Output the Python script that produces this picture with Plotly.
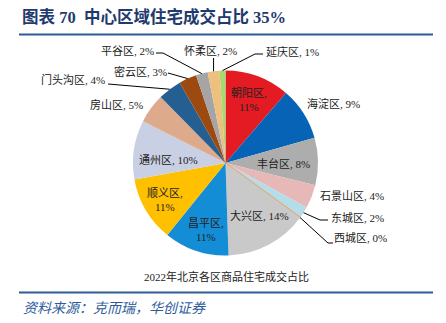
import math
import plotly.graph_objects as go

# 2022 Beijing new-home transaction share by district (%)
districts = ["朝阳区", "海淀区", "丰台区", "石景山区", "东城区", "西城区", "大兴区", "昌平区",
             "顺义区", "通州区", "房山区", "门头沟区", "密云区", "平谷区", "怀柔区", "延庆区"]
shares = [11, 9, 8, 4, 2, 0, 14, 11, 11, 10, 5, 4, 3, 2, 2, 1]
colors = ["#E41B22", "#0663B6", "#ADADAD", "#E6B9B8", "#B4DDE8", "#F79646", "#C9C9C9", "#138ED6",
          "#FFC000", "#CAD0E4", "#DDAA8C", "#255E91", "#9C4A10", "#A5A5A5", "#EEC07E", "#A8D870"]

W, H = 446, 323
CX, CY, R = 225.5, 163.0, 92.5   # pie centre / radius in pixels

def px(x):
    return x / W

def py(y):
    return 1 - y / H

fig = go.Figure()

fig.add_trace(go.Pie(
    labels=districts,
    values=shares,
    sort=False,
    direction="clockwise",
    rotation=0,
    textinfo="none",
    hoverinfo="label+value",
    marker=dict(colors=colors,
                line=dict(color=["#F79646" if v == 0 else "rgba(0,0,0,0)" for v in shares],
                          width=[1.5 if v == 0 else 0 for v in shares])),
    domain=dict(x=[px(CX - R), px(CX + R)], y=[py(CY + R), py(CY - R)]),
    showlegend=False,
))

# slice mid-angles (clockwise from 12 o'clock) derived from the data
total = sum(shares)
mid_angle = {}
acc = 0.0
for name, v in zip(districts, shares):
    mid_angle[name] = (acc + v / 2) / total * 2 * math.pi
    acc += v

def edge_point(name):
    a = mid_angle[name]
    return CX + R * math.sin(a), CY - R * math.cos(a)

# label placement (pixel centres)
label_pos = {
    "朝阳区": (249, 100), "海淀区": (333, 103), "丰台区": (283, 163), "石景山区": (352, 196),
    "东城区": (357, 218), "西城区": (360, 238), "大兴区": (259, 216), "昌平区": (206, 230),
    "顺义区": (165, 200), "通州区": (168, 160), "房山区": (117, 105), "门头沟区": (73, 80),
    "密云区": (140, 71), "平谷区": (127, 51), "怀柔区": (210, 51), "延庆区": (292, 51),
}
two_line = {"朝阳区", "昌平区", "顺义区"}

label_font = dict(family="Liberation Serif, Noto Sans CJK SC", size=11, color="#222222")
annotations = []
for name, v in zip(districts, shares):
    x, y = label_pos[name]
    sep = ",<br>" if name in two_line else ", "
    annotations.append(dict(x=px(x), y=py(y), xref="paper", yref="paper",
                            text=f"{name}{sep}{v}%", showarrow=False,
                            xanchor="center", yanchor="middle", font=label_font))

# leader lines: slice edge -> elbow -> label
leaders = {
    "东城区": [(320, 220), (328, 220)],
    "西城区": [(328, 243), (333, 243)],
    "门头沟区": [(108, 84)],
    "密云区": [(168, 73)],
    "平谷区": [(163, 53), (156, 53)],
    "延庆区": [(255, 54), (263, 54)],
}
shapes = []
for name, pts in leaders.items():
    sx, sy = edge_point(name)
    path = f"M {px(sx)} {py(sy)} " + " ".join(f"L {px(a)} {py(b)}" for a, b in pts)
    shapes.append(dict(type="path", path=path, xref="paper", yref="paper",
                       line=dict(color="#000000", width=1)))
hx, hy = edge_point("怀柔区")
shapes.append(dict(type="line", xref="paper", yref="paper", x0=px(hx), y0=py(hy),
                   x1=px(hx), y1=py(58), line=dict(color="#000000", width=1)))

# header / footer rules
rule = "#2E5C96"
shapes.append(dict(type="line", xref="paper", yref="paper", x0=px(19), x1=px(433),
                   y0=py(34.5), y1=py(34.5), line=dict(color=rule, width=2.2)))
shapes.append(dict(type="line", xref="paper", yref="paper", x0=px(19), x1=px(433),
                   y0=py(292.5), y1=py(292.5), line=dict(color=rule, width=2.2)))

annotations.append(dict(x=px(20), y=py(17), xref="paper", yref="paper",
                        text="<b>图表 70  中心区域住宅成交占比 35%</b>", showarrow=False,
                        xanchor="left", yanchor="middle",
                        font=dict(family="Liberation Serif, Noto Sans CJK SC", size=16.5, color="#1F3A6E")))
annotations.append(dict(x=px(226), y=py(276), xref="paper", yref="paper",
                        text="2022年北京各区商品住宅成交占比", showarrow=False,
                        xanchor="center", yanchor="middle",
                        font=dict(family="Liberation Serif, Noto Sans CJK SC", size=11, color="#222222")))
annotations.append(dict(x=px(21), y=py(307), xref="paper", yref="paper",
                        text="<i>资料来源：克而瑞，华创证券</i>", showarrow=False,
                        xanchor="left", yanchor="middle",
                        font=dict(family="Noto Sans CJK SC", size=14, color="#2E5C9A")))

fig.update_layout(width=W, height=H, margin=dict(l=0, r=0, t=0, b=0),
                  paper_bgcolor="white", plot_bgcolor="white",
                  annotations=annotations, shapes=shapes)

fig.write_html("out.html")
